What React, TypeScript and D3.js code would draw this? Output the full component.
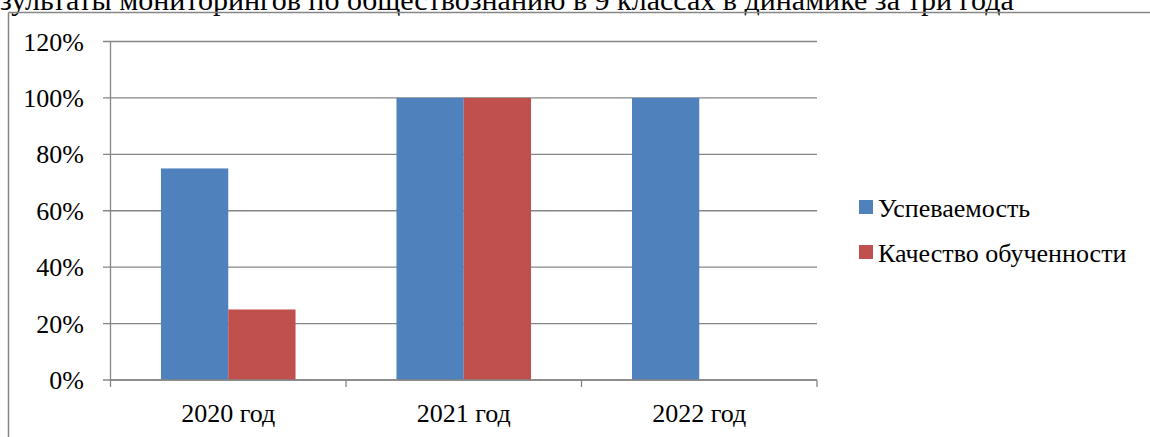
import React, { useLayoutEffect, useRef, useState } from 'react';
import * as d3 from 'd3';

const titlePrefix = 'Ре';
const titleRest = 'зультаты мониторингов по обществознанию в 9 классах в динамике за три года';
const categories = ['2020 год', '2021 год', '2022 год'];
const seriesNames = ['Успеваемость', 'Качество обученности'];
const seriesColors = ['#4F81BD', '#C0504D'];
const uspevaemost = [0.75, 1, 1];
const kachestvo = [0.25, 1, 0];
const yTicks = [0, 0.2, 0.4, 0.6, 0.8, 1.0, 1.2];

const W = 1150;
const H = 437;
const ts = { fontFamily: "'Liberation Serif', 'Times New Roman', serif" };

export default function App() {
  const measureRef = useRef<SVGTextElement | null>(null);
  const [titleLayout, setTitleLayout] = useState({ size: 30, x: -30 });

  useLayoutEffect(() => {
    const el = measureRef.current;
    if (!el) return;
    const total = el.getComputedTextLength();
    const pre = el.getSubStringLength(0, titlePrefix.length);
    const restW = total - pre;
    const size = Math.min(30, (100 * 1078) / restW);
    setTitleLayout({ size, x: -(pre * size) / 100 });
  }, []);

  const x0 = d3.scaleBand<string>().domain(categories).range([110.5, 817]).padding(0);
  const x1 = d3.scaleBand<string>().domain(seriesNames).range([0, x0.bandwidth()]).paddingInner(0).paddingOuter(0.75);
  const y = d3.scaleLinear().domain([0, 1.2]).range([380, 41.5]);
  const fmt = d3.format('.0%');
  const series = [uspevaemost, kachestvo];
  const grid = '#868686';
  const boundaries = [...categories.map((c) => x0(c) as number), 817];

  return (
    <svg width={W} height={H} style={{ position: 'absolute', left: 0, top: 0 }}>
      <rect x={0} y={0} width={W} height={H} fill="#fff" />
      <text ref={measureRef} x={0} y={-500} fontSize={100} style={ts} visibility="hidden">{titlePrefix + titleRest}</text>
      <text x={titleLayout.x} y={9.5} fontSize={titleLayout.size} fill="#000" style={ts}>{titlePrefix + titleRest}</text>
      <line x1={8.5} x2={W} y1={12.5} y2={12.5} stroke={grid} strokeWidth={1.5} />
      <line x1={8.5} x2={8.5} y1={12.5} y2={H} stroke={grid} strokeWidth={1.5} />
      {yTicks.map((t) => (
        <g key={t}>
          <line x1={103} x2={817} y1={y(t)} y2={y(t)} stroke={grid} strokeWidth={1.3} />
          <text x={84} y={y(t) + 9} textAnchor="end" fontSize={26} fill="#000" style={ts}>{fmt(t)}</text>
        </g>
      ))}
      {categories.map((c, i) => (
        <g key={c} transform={`translate(${x0(c)},0)`}>
          {series.map((s, j) => (
            s[i] > 0 ? (
              <rect key={j} x={x1(seriesNames[j])} y={y(s[i])} width={x1.bandwidth()} height={y(0) - y(s[i])} fill={seriesColors[j]} />
            ) : null
          ))}
        </g>
      ))}
      <line x1={110.5} x2={110.5} y1={y(1.2)} y2={y(0)} stroke={grid} strokeWidth={1.3} />
      <line x1={110.5} x2={817} y1={y(0)} y2={y(0)} stroke={grid} strokeWidth={1.3} />
      {boundaries.map((b, i) => (
        <line key={i} x1={b} x2={b} y1={y(0)} y2={y(0) + 7} stroke={grid} strokeWidth={1.3} />
      ))}
      {categories.map((c) => (
        <text key={c} x={(x0(c) as number) + x0.bandwidth() / 2} y={422} textAnchor="middle" fontSize={26} fill="#000" style={ts}>{c}</text>
      ))}
      {seriesNames.map((n, j) => (
        <g key={n} transform={`translate(859,${200 + j * 45})`}>
          <rect x={0} y={0} width={14} height={14} fill={seriesColors[j]} />
          <text x={19} y={17} fontSize={26} fill="#000" style={ts}>{n}</text>
        </g>
      ))}
    </svg>
  );
}
